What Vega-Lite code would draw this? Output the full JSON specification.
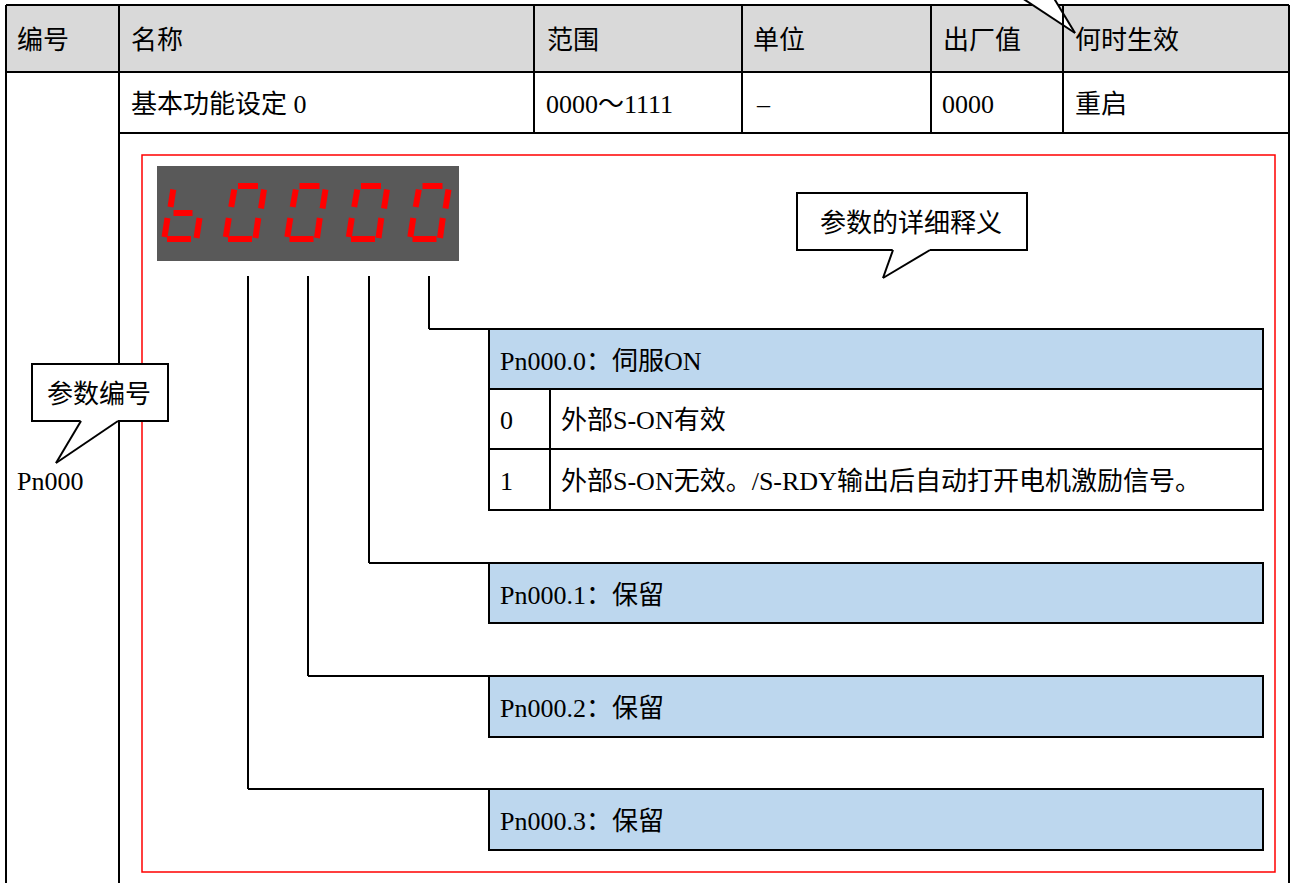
{
  "$schema": "https://vega.github.io/schema/vega-lite/v6.json",
  "width": 1296,
  "height": 883,
  "autosize": {"type": "none"},
  "padding": 0,
  "background": "white",
  "config": {"view": {"stroke": null}},
  "datasets": {
    "fills": [
      {"kind": "header", "x": 6, "y": 5, "x2": 1289, "y2": 72},
      {"kind": "display", "x": 157, "y": 166, "x2": 459, "y2": 261},
      {"kind": "blue", "x": 489, "y": 329, "x2": 1263, "y2": 389},
      {"kind": "blue", "x": 489, "y": 563, "x2": 1263, "y2": 623},
      {"kind": "blue", "x": 489, "y": 676, "x2": 1263, "y2": 737},
      {"kind": "blue", "x": 489, "y": 789, "x2": 1263, "y2": 850}
    ],
    "boxes": [
      {"x": 489, "y": 329, "x2": 1263, "y2": 510},
      {"x": 489, "y": 563, "x2": 1263, "y2": 623},
      {"x": 489, "y": 676, "x2": 1263, "y2": 737},
      {"x": 489, "y": 789, "x2": 1263, "y2": 850}
    ],
    "frame": [
      {"x": 142, "y": 155, "x2": 1275, "y2": 872}
    ],
    "lines": [
      {"x": 6, "y": 5, "x2": 1032, "y2": 5},
      {"x": 1058, "y": 5, "x2": 1289, "y2": 5},
      {"x": 6, "y": 5, "x2": 6, "y2": 883},
      {"x": 119, "y": 5, "x2": 119, "y2": 883},
      {"x": 1289, "y": 5, "x2": 1289, "y2": 883},
      {"x": 6, "y": 72, "x2": 1289, "y2": 72},
      {"x": 119, "y": 133, "x2": 1289, "y2": 133},
      {"x": 534, "y": 5, "x2": 534, "y2": 133},
      {"x": 742, "y": 5, "x2": 742, "y2": 133},
      {"x": 931, "y": 5, "x2": 931, "y2": 133},
      {"x": 1063, "y": 5, "x2": 1063, "y2": 133},
      {"x": 429, "y": 276, "x2": 429, "y2": 329},
      {"x": 429, "y": 329, "x2": 489, "y2": 329},
      {"x": 369, "y": 276, "x2": 369, "y2": 563},
      {"x": 369, "y": 563, "x2": 489, "y2": 563},
      {"x": 308, "y": 276, "x2": 308, "y2": 676},
      {"x": 308, "y": 676, "x2": 489, "y2": 676},
      {"x": 248, "y": 276, "x2": 248, "y2": 789},
      {"x": 248, "y": 789, "x2": 489, "y2": 789},
      {"x": 489, "y": 389, "x2": 1263, "y2": 389},
      {"x": 489, "y": 449, "x2": 1263, "y2": 449},
      {"x": 550, "y": 389, "x2": 550, "y2": 510}
    ],
    "segments": [
      {"digit": 1, "x": 173.3, "y": 189.5, "x2": 170.5, "y2": 207},
      {"digit": 1, "x": 173.5, "y": 213, "x2": 192.5, "y2": 213},
      {"digit": 1, "x": 167.5, "y": 218, "x2": 164.5, "y2": 237},
      {"digit": 1, "x": 199.5, "y": 218, "x2": 196.5, "y2": 238},
      {"digit": 1, "x": 167, "y": 239, "x2": 191, "y2": 239},
      {"digit": 2, "x": 238, "y": 186, "x2": 258, "y2": 186},
      {"digit": 2, "x": 234.3, "y": 189.5, "x2": 231.2, "y2": 207},
      {"digit": 2, "x": 264, "y": 189.5, "x2": 261, "y2": 208.5},
      {"digit": 2, "x": 228.8, "y": 218, "x2": 225.8, "y2": 237},
      {"digit": 2, "x": 258.3, "y": 218, "x2": 255.5, "y2": 238},
      {"digit": 2, "x": 228, "y": 239, "x2": 252, "y2": 239},
      {"digit": 3, "x": 299.5, "y": 186, "x2": 319.5, "y2": 186},
      {"digit": 3, "x": 295.8, "y": 189.5, "x2": 292.7, "y2": 207},
      {"digit": 3, "x": 325.5, "y": 189.5, "x2": 322.5, "y2": 208.5},
      {"digit": 3, "x": 290.3, "y": 218, "x2": 287.3, "y2": 237},
      {"digit": 3, "x": 319.8, "y": 218, "x2": 317, "y2": 238},
      {"digit": 3, "x": 289.5, "y": 239, "x2": 313.5, "y2": 239},
      {"digit": 4, "x": 361, "y": 186, "x2": 381, "y2": 186},
      {"digit": 4, "x": 357.3, "y": 189.5, "x2": 354.2, "y2": 207},
      {"digit": 4, "x": 387, "y": 189.5, "x2": 384, "y2": 208.5},
      {"digit": 4, "x": 351.8, "y": 218, "x2": 348.8, "y2": 237},
      {"digit": 4, "x": 381.3, "y": 218, "x2": 378.5, "y2": 238},
      {"digit": 4, "x": 351, "y": 239, "x2": 375, "y2": 239},
      {"digit": 5, "x": 422.5, "y": 186, "x2": 442.5, "y2": 186},
      {"digit": 5, "x": 418.8, "y": 189.5, "x2": 415.7, "y2": 207},
      {"digit": 5, "x": 448.5, "y": 189.5, "x2": 445.5, "y2": 208.5},
      {"digit": 5, "x": 413.3, "y": 218, "x2": 410.3, "y2": 237},
      {"digit": 5, "x": 442.8, "y": 218, "x2": 440, "y2": 238},
      {"digit": 5, "x": 412.5, "y": 239, "x2": 436.5, "y2": 239}
    ],
    "callouts": [
      {"x": 32, "y": 364, "x2": 168, "y2": 421},
      {"x": 797, "y": 193, "x2": 1027, "y2": 250}
    ],
    "tails": [
      {"id": "a", "x": 56, "y": 463, "y2": 463},
      {"id": "a", "x": 81, "y": 419.5, "y2": 446.1},
      {"id": "a", "x": 118, "y": 419.5, "y2": 421},
      {"id": "b", "x": 883, "y": 278, "y2": 278},
      {"id": "b", "x": 893, "y": 248.5, "y2": 272},
      {"id": "b", "x": 930, "y": 248.5, "y2": 250},
      {"id": "c", "x": 1019, "y": -4, "y2": -4},
      {"id": "c", "x": 1052.6, "y": -4, "y2": 18.2},
      {"id": "c", "x": 1075, "y": 33, "y2": 33}
    ],
    "sides": [
      {"x": 81, "y": 421, "x2": 56, "y2": 463},
      {"x": 56, "y": 463, "x2": 118, "y2": 421},
      {"x": 893, "y": 250, "x2": 883, "y2": 278},
      {"x": 883, "y": 278, "x2": 930, "y2": 250},
      {"x": 1019, "y": -4, "x2": 1075, "y2": 33},
      {"x": 1052.6, "y": -4, "x2": 1075, "y2": 33},
      {"x": 1063, "y": 5, "x2": 1063, "y2": 72}
    ],
    "labels": [
      {"x": 17, "y": 39, "text": "编号"},
      {"x": 131, "y": 39, "text": "名称"},
      {"x": 547, "y": 39, "text": "范围"},
      {"x": 753, "y": 39, "text": "单位"},
      {"x": 943, "y": 39, "text": "出厂值"},
      {"x": 1075, "y": 39, "text": "何时生效"},
      {"x": 131, "y": 103, "text": "基本功能设定 0"},
      {"x": 546, "y": 103, "text": "0000～1111"},
      {"x": 757, "y": 103, "text": "–"},
      {"x": 942, "y": 103, "text": "0000"},
      {"x": 1075, "y": 103, "text": "重启"},
      {"x": 17, "y": 480, "text": "Pn000"},
      {"x": 500, "y": 360, "text": "Pn000.0：伺服ON"},
      {"x": 500, "y": 419, "text": "0"},
      {"x": 561, "y": 419, "text": "外部S-ON有效"},
      {"x": 500, "y": 480, "text": "1"},
      {"x": 561, "y": 480, "text": "外部S-ON无效。/S-RDY输出后自动打开电机激励信号。"},
      {"x": 500, "y": 594, "text": "Pn000.1：保留"},
      {"x": 500, "y": 707, "text": "Pn000.2：保留"},
      {"x": 500, "y": 820, "text": "Pn000.3：保留"}
    ],
    "notes": [
      {"x": 911, "y": 222, "text": "参数的详细释义"},
      {"x": 99, "y": 393, "text": "参数编号"}
    ]
  },
  "encoding": {
    "x": {"field": "x", "type": "quantitative", "scale": {"domain": [0, 1296], "nice": false, "zero": false}, "axis": null},
    "y": {"field": "y", "type": "quantitative", "scale": {"domain": [0, 883], "nice": false, "zero": false, "reverse": true}, "axis": null}
  },
  "layer": [
    {
      "data": {"name": "fills"},
      "mark": {"type": "rect", "strokeWidth": 0},
      "encoding": {
        "x2": {"field": "x2"},
        "y2": {"field": "y2"},
        "color": {"field": "kind", "type": "nominal", "scale": {"domain": ["header", "display", "blue"], "range": ["#D9D9D9", "#595959", "#BDD7EE"]}, "legend": null}
      }
    },
    {
      "data": {"name": "lines"},
      "mark": {"type": "rule", "color": "#000000", "strokeWidth": 2},
      "encoding": {"x2": {"field": "x2"}, "y2": {"field": "y2"}}
    },
    {
      "data": {"name": "boxes"},
      "mark": {"type": "rect", "filled": false, "stroke": "#000000", "strokeWidth": 2},
      "encoding": {"x2": {"field": "x2"}, "y2": {"field": "y2"}}
    },
    {
      "data": {"name": "frame"},
      "mark": {"type": "rect", "filled": false, "stroke": "#FF0000", "strokeWidth": 1.5},
      "encoding": {"x2": {"field": "x2"}, "y2": {"field": "y2"}}
    },
    {
      "data": {"name": "segments"},
      "mark": {"type": "rule", "color": "#FF0000", "strokeWidth": 6, "strokeCap": "butt"},
      "encoding": {"x2": {"field": "x2"}, "y2": {"field": "y2"}}
    },
    {
      "data": {"name": "callouts"},
      "mark": {"type": "rect", "fill": "#FFFFFF", "stroke": "#000000", "strokeWidth": 2},
      "encoding": {"x2": {"field": "x2"}, "y2": {"field": "y2"}}
    },
    {
      "data": {"name": "tails"},
      "mark": {"type": "area", "color": "#FFFFFF", "opacity": 1},
      "encoding": {"y2": {"field": "y2"}, "detail": {"field": "id", "type": "nominal"}}
    },
    {
      "data": {"name": "sides"},
      "mark": {"type": "rule", "color": "#000000", "strokeWidth": 2},
      "encoding": {"x2": {"field": "x2"}, "y2": {"field": "y2"}}
    },
    {
      "data": {"name": "labels"},
      "mark": {"type": "text", "align": "left", "baseline": "middle", "dy": 2, "font": "Liberation Serif, Noto Sans CJK SC", "fontSize": 26, "color": "#000000"},
      "encoding": {"text": {"field": "text", "type": "nominal"}}
    },
    {
      "data": {"name": "notes"},
      "mark": {"type": "text", "align": "center", "baseline": "middle", "dy": 2, "font": "Liberation Serif, Noto Sans CJK SC", "fontSize": 26, "color": "#000000"},
      "encoding": {"text": {"field": "text", "type": "nominal"}}
    }
  ]
}
